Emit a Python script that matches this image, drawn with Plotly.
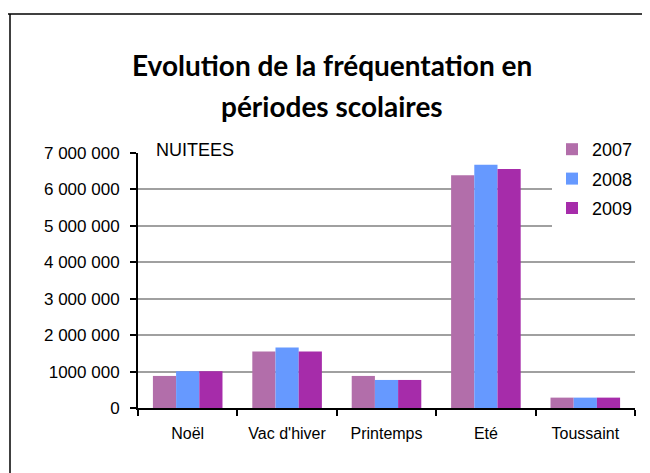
import plotly.graph_objects as go

categories = ["Noël", "Vac d'hiver", "Printemps", "Eté", "Toussaint"]
years = ["2007", "2008", "2009"]
v2007 = [880000, 1550000, 880000, 6390000, 285000]
v2008 = [1010000, 1660000, 770000, 6680000, 285000]
v2009 = [1010000, 1550000, 770000, 6560000, 285000]
colors = ["#B26EAA", "#6699FF", "#A62CAA"]
y_ticks = [0, 1000000, 2000000, 3000000, 4000000, 5000000, 6000000, 7000000]
y_tick_labels = ["0", "1000 000", "2 000 000", "3 000 000", "4 000 000", "5 000 000", "6 000 000", "7 000 000"]

OFF = 8  # page body margin
W, H = 650 - OFF, 473 - OFF
L, R, T, B = 138 - OFF, 15, 153 - OFF, 65
pw, ph = W - L - R, H - T - B

def px_x(p):
    return (p - OFF - L) / pw

def px_y(p):
    return (H - B - (p - OFF)) / ph

fig = go.Figure()
for name, vals, col in zip(years, [v2007, v2008, v2009], colors):
    fig.add_trace(go.Bar(x=categories, y=vals, name=name, marker=dict(color=col, line=dict(width=0)),
                         legendgroup=name))

fig.update_layout(
    width=W, height=H,
    margin=dict(l=L, r=R, t=T, b=B, autoexpand=False),
    paper_bgcolor="white", plot_bgcolor="white",
    barmode="group", bargap=0.3, bargroupgap=0,
    font=dict(family="Liberation Sans, Arial, sans-serif", size=16, color="black"),
    showlegend=True,
    legend=dict(x=px_x(552), y=px_y(131), xanchor="left", yanchor="top",
                bgcolor="white", font=dict(size=18), traceorder="grouped",
                tracegroupgap=3, itemwidth=30),
    xaxis=dict(showline=True, linecolor="black", linewidth=2, ticks="outside",
               tickson="boundaries", ticklen=6, tickwidth=2, tickcolor="black",
               ticklabelstandoff=10, showgrid=False, tickfont=dict(size=16)),
    yaxis=dict(range=[0, 7000000], tickvals=y_ticks, ticktext=y_tick_labels,
               showline=True, linecolor="black", linewidth=2, ticks="outside",
               ticklen=6, tickwidth=2, tickcolor="black", ticklabelstandoff=7,
               showgrid=True, gridcolor="#A0A0A0", gridwidth=2, zeroline=False,
               tickfont=dict(size=17)),
    annotations=[
        dict(text="<b>Evolution de la fréquentation en</b>", x=px_x(332), y=px_y(65),
             xref="paper", yref="paper", showarrow=False, xanchor="center", yanchor="middle",
             font=dict(family="Lato, Open Sans, sans-serif", size=28, color="black")),
        dict(text="<b>périodes scolaires</b>", x=px_x(332), y=px_y(106),
             xref="paper", yref="paper", showarrow=False, xanchor="center", yanchor="middle",
             font=dict(family="Lato, Open Sans, sans-serif", size=28, color="black")),
        dict(text="NUITEES", x=px_x(154), y=px_y(150), xref="paper", yref="paper",
             showarrow=False, xanchor="left", yanchor="middle", font=dict(size=18)),
    ],
    shapes=[
        dict(type="line", xref="paper", yref="paper", x0=px_x(0), x1=px_x(660),
             y0=px_y(14), y1=px_y(14), line=dict(color="black", width=1.5)),
        dict(type="line", xref="paper", yref="paper", x0=px_x(10), x1=px_x(10),
             y0=px_y(14), y1=px_y(480), line=dict(color="black", width=1.5)),
    ],
)

fig.write_html("out.html")
